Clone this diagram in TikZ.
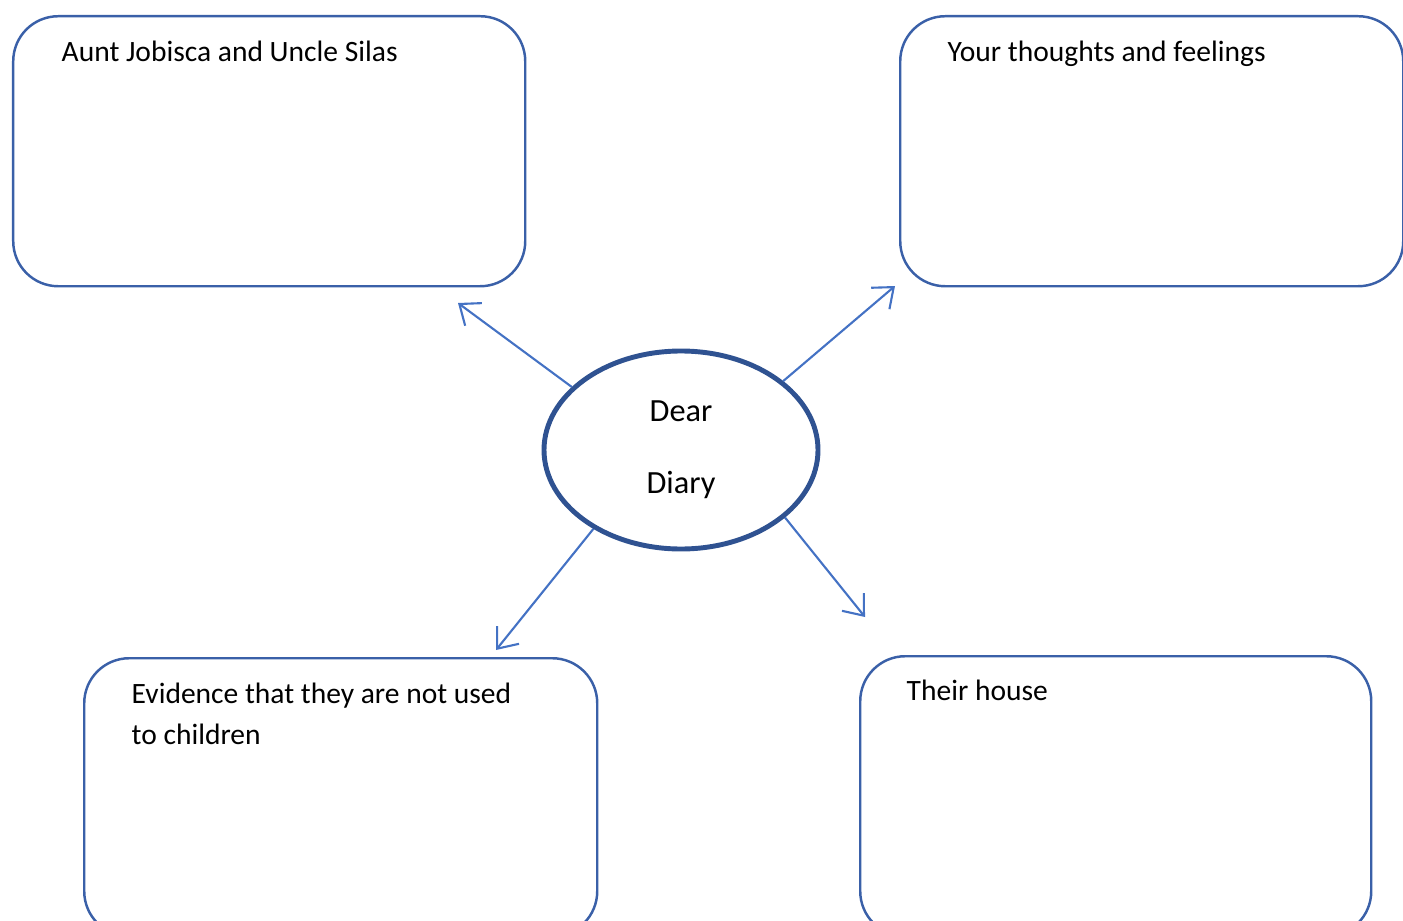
\documentclass[tikz,border=0pt]{standalone}
\usepackage{fontspec}
\setmainfont{Carlito}
\usetikzlibrary{shapes.geometric,arrows.meta,positioning}
\definecolor{boxblue}{RGB}{58,96,168}
\definecolor{ringblue}{RGB}{47,82,145}
\definecolor{linkblue}{RGB}{68,114,196}

\begin{document}
\begin{tikzpicture}[
  box/.style={draw=boxblue, line width=0.7pt, rounded corners=0.45cm,
    anchor=north west, inner sep=0pt},
  tag/.style={inner sep=0pt, align=left,
    font=\fontsize{8.4}{11.7}\selectfont},
  link/.style={draw=linkblue, line width=0.6pt,
    -{Straight Barb[length=5pt,width=8pt]}}
]
  \useasboundingbox (0,0) rectangle (14.03,9.20);
  \clip (0,0) rectangle (14.03,9.20);

  \node[box, minimum width=5.12cm, minimum height=2.70cm] (aunt) at (0.12,9.05) {};
  \node[box, minimum width=5.03cm, minimum height=2.70cm] (thoughts) at (8.99,9.05) {};
  \node[box, minimum width=5.13cm, minimum height=2.78cm] (evidence) at (0.83,2.63) {};
  \node[box, minimum width=5.11cm, minimum height=2.80cm] (house) at (8.59,2.65) {};

  \node[tag, below right=0.25cm and 0.49cm of aunt.north west] (auntlbl) {Aunt Jobisca and Uncle Silas};
  \node[tag, below right=0.25cm and 0.48cm of thoughts.north west] (thoughtslbl) {Your thoughts and feelings};
  \node[tag, below right=0.25cm and 0.48cm of evidence.north west] (evidencelbl) {Evidence that they are not used\\to children};
  \node[tag, below right=0.24cm and 0.47cm of house.north west] (houselbl) {Their house};

  \node[ellipse, draw=ringblue, line width=1.4pt, minimum width=2.74cm,
    minimum height=1.98cm, inner sep=0pt, align=center,
    font=\fontsize{9.2}{11.2}\selectfont] (diary) at (6.81,4.70) {Dear\\[9.3pt]Diary};

  \coordinate (auntend) at (4.58,6.17);
  \coordinate (thoughtsend) at (8.95,6.34);
  \coordinate (evidenceend) at (4.96,2.70);
  \coordinate (houseend) at (8.65,3.03);

  \draw[link] (diary.150) -- (auntend);
  \draw[link] (diary.34) -- (thoughtsend);
  \draw[link] (diary.222) -- (evidenceend);
  \draw[link] (diary.-33) -- (houseend);
\end{tikzpicture}
\end{document}
